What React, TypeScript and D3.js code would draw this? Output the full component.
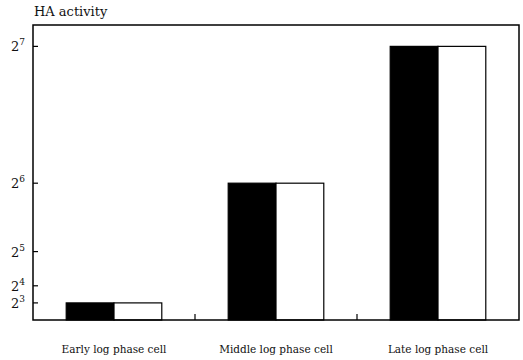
import React from 'react';
import * as d3 from 'd3';

// values (HA titre)
const categories = ['Early log phase cell', 'Middle log phase cell', 'Late log phase cell'];
const series = ['filled', 'open'];
const filledValues = [8, 64, 128];
const openValues = [8, 64, 128];
const tickExponents = [3, 4, 5, 6, 7];

const W = 523;
const H = 360;
const margin = { top: 25, right: 4, bottom: 40, left: 33 };

export default function App() {
  const innerW = W - margin.left - margin.right;
  const innerH = H - margin.top - margin.bottom;

  const x0 = d3.scaleBand<string>()
    .domain(categories)
    .range([0, innerW])
    .paddingInner(0.41)
    .paddingOuter(0.205);
  const x1 = d3.scaleBand<string>()
    .domain(series)
    .range([0, x0.bandwidth()])
    .padding(0);
  const y = d3.scaleLinear().domain([0, 138]).range([innerH, 0]);

  const font = "'DejaVu Serif', serif";
  const rows = categories.map((c, i) => ({ c, filled: filledValues[i], open: openValues[i] }));
  // small separators at band boundaries
  const separators = categories.slice(1).map(c => x0(c)! - (x0.step() - x0.bandwidth()) / 2);

  return (
    <svg width={W} height={H} style={{ position: 'absolute', left: 0, top: 0, background: '#fff', fontFamily: font }}>
      <text x={34} y={16} fontSize={13} fill="#111">HA activity</text>
      <g transform={`translate(${margin.left},${margin.top})`}>
        {rows.map(r => (
          <g key={r.c} transform={`translate(${x0(r.c)},0)`}>
            <rect x={x1('filled')} y={y(r.filled)} width={x1.bandwidth()} height={innerH - y(r.filled)}
              fill="#000" stroke="#000" strokeWidth={1.2} />
            <rect x={x1('open')} y={y(r.open)} width={x1.bandwidth()} height={innerH - y(r.open)}
              fill="#fff" stroke="#000" strokeWidth={1.2} />
          </g>
        ))}
        {separators.map((sx, i) => (
          <line key={i} x1={sx} x2={sx} y1={innerH} y2={innerH - 6} stroke="#000" strokeWidth={1.2} />
        ))}
        {tickExponents.map(e => (
          <g key={e} transform={`translate(0,${y(Math.pow(2, e))})`}>
            <line x1={0} x2={5} stroke="#000" strokeWidth={1.2} />
            <text x={-8} y={5} textAnchor="end" fontSize={13} fill="#111">
              2<tspan dy={-6} fontSize={9}>{e}</tspan>
            </text>
          </g>
        ))}
        <rect x={0} y={0} width={innerW} height={innerH} fill="none" stroke="#000" strokeWidth={1.5} />
        {categories.map(c => (
          <text key={c} x={x0(c)! + x0.bandwidth() / 2} y={innerH + 33} textAnchor="middle"
            fontSize={10.5} fill="#111">{c}</text>
        ))}
      </g>
    </svg>
  );
}
